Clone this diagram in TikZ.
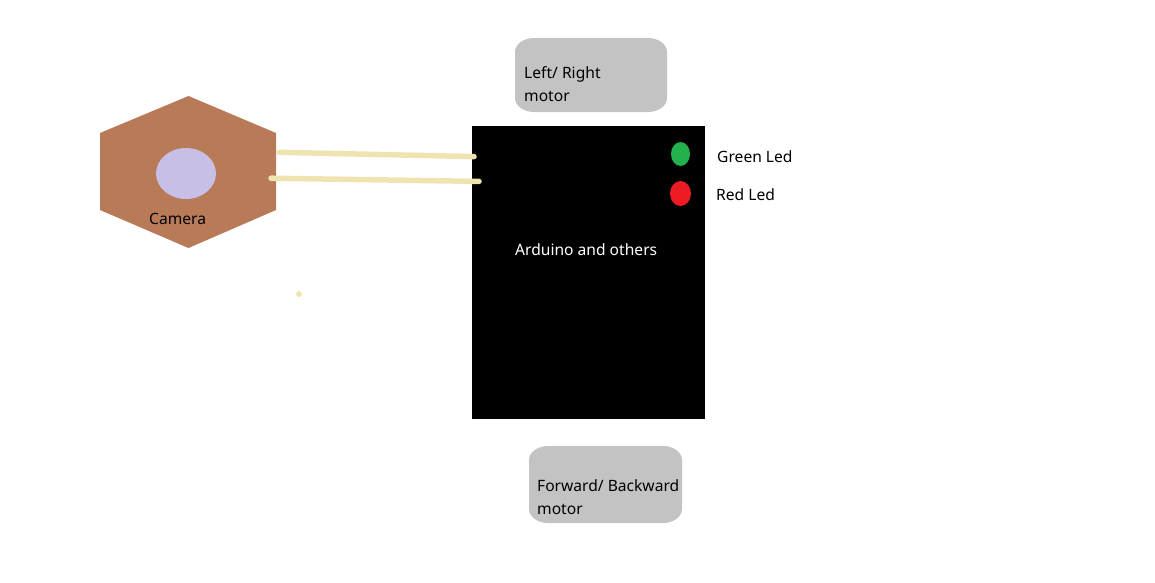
\documentclass[tikz,border=0pt]{standalone}
\usepackage{fontspec}
\setmainfont{Noto Sans}
\usetikzlibrary{shapes.geometric}
\definecolor{camfill}{HTML}{B97A57}
\definecolor{lensfill}{HTML}{C8BFE7}
\definecolor{wirecol}{HTML}{EFE4B0}
\definecolor{motorfill}{HTML}{C3C3C3}
\definecolor{ledgreen}{HTML}{22B14C}
\definecolor{ledred}{HTML}{ED1C24}
\tikzset{
  lbl/.style={anchor=base west,inner sep=0pt,font=\fontsize{15.6}{18}\selectfont,text=black},
  motorbox/.style={fill=motorfill},
  blob/.style={ellipse,draw=none,inner sep=0pt},
  wire/.style={draw=wirecol,line width=5.5pt,line cap=round}
}
% softbox{left}{top}{right}{bottom}: box with wide, shallow rounded corners
\newcommand{\softbox}[4]{%
  \fill[motorbox]
    ({#1+19},#2) -- ({#3-19},#2)
    .. controls ({#3-8.5},#2) and (#3,{#2+6.3}) .. (#3,{#2+14})
    -- (#3,{#4-14})
    .. controls (#3,{#4-6.3}) and ({#3-8.5},#4) .. ({#3-19},#4)
    -- ({#1+19},#4)
    .. controls ({#1+8.5},#4) and (#1,{#4-6.3}) .. (#1,{#4-14})
    -- (#1,{#2+14})
    .. controls (#1,{#2+6.3}) and ({#1+8.5},#2) .. ({#1+19},#2) -- cycle;}
\begin{document}
\begin{tikzpicture}[x=1pt,y=-1pt]
\useasboundingbox (0,0) rectangle (1155,582);
\fill[camfill] (188.5,96) -- (276,133) -- (276,210) -- (188.5,248) -- (100,210) -- (100,133) -- cycle;
\node[blob,fill=lensfill,minimum width=60pt,minimum height=51pt] (lens) at (186,173.5) {};
\node[lbl] (camera) at (149,224) {Camera};
\softbox{515}{38}{667}{112}
\softbox{529}{446}{682}{523}
\node[draw=none,fill=black,inner sep=0pt,anchor=north west,minimum width=233pt,minimum height=293pt] (board) at (472,126) {};
\coordinate (w1a) at (279,152.3);
\coordinate (w1b) at (474,156.6);
\coordinate (w2a) at (271,178.2);
\coordinate (w2b) at (479,181.4);
\draw[wire] (w1a) -- (w1b);
\draw[wire] (w2a) -- (w2b);
\node[circle,fill=wirecol,inner sep=0pt,minimum size=6pt] (speck) at (299,294) {};
\node[blob,fill=ledgreen,minimum width=19pt,minimum height=24pt] (gled) at (680.5,154) {};
\node[blob,fill=ledred,minimum width=21pt,minimum height=25pt] (rled) at (680.5,193.5) {};
\node[lbl] (glbl) at (717,162) {Green Led};
\node[lbl] (rlbl) at (716,200) {Red Led};
\node[lbl,text=white] (arduino) at (515,255) {Arduino and others};
\node[lbl] (lr1) at (524,78) {Left/ Right};
\node[lbl] (lr2) at (524,101) {motor};
\node[lbl] (fb1) at (537,491) {Forward/ Backward};
\node[lbl] (fb2) at (537,514) {motor};
\end{tikzpicture}
\end{document}
